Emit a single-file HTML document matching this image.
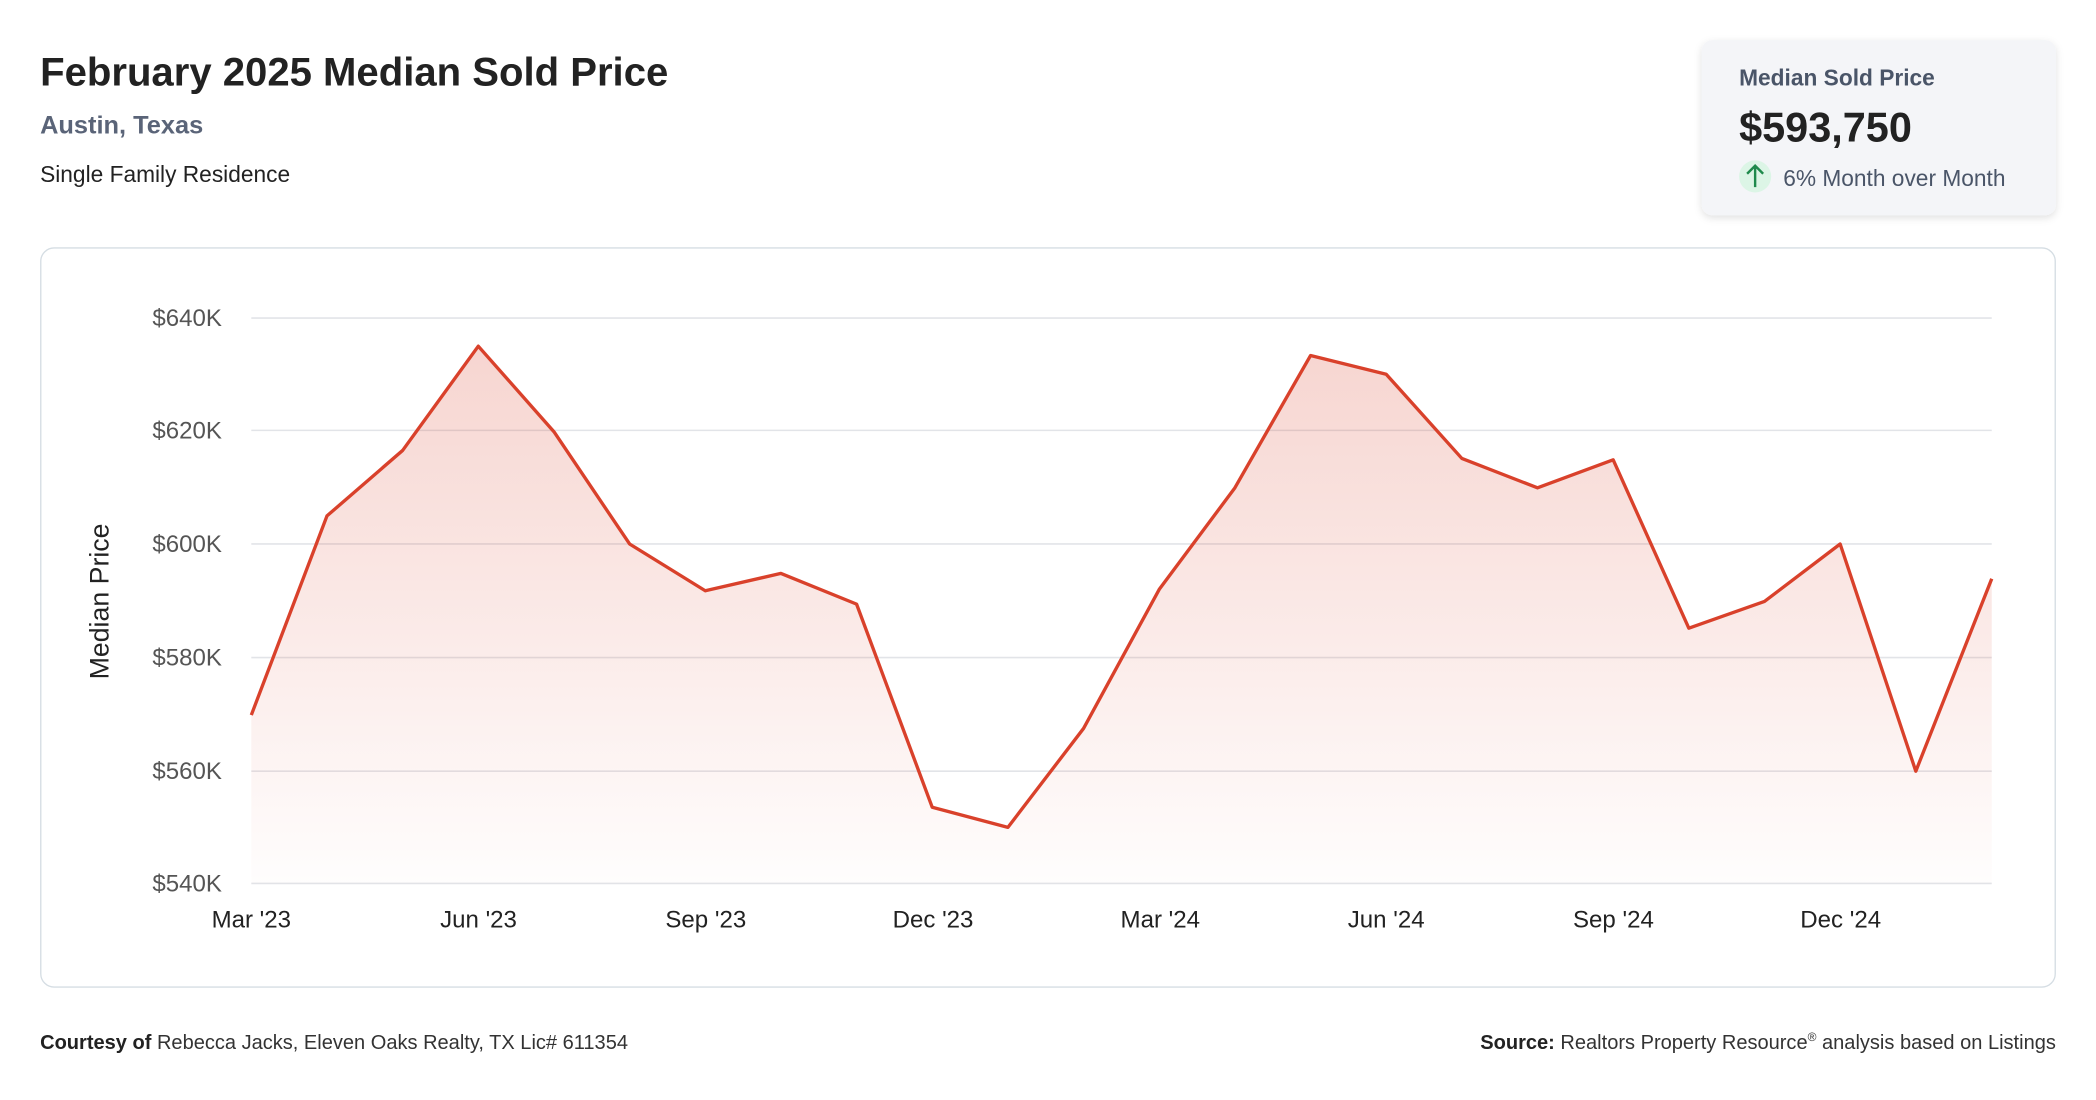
<!DOCTYPE html>
<html><head><meta charset="utf-8"><style>
html,body{margin:0;padding:0;background:#fff;width:2096px;height:1100px;overflow:hidden}
svg{display:block}
text{font-family:"Liberation Sans",Arial,sans-serif}
</style></head><body>
<svg width="2096" height="1100" viewBox="0 0 1568 823" preserveAspectRatio="none" xmlns="http://www.w3.org/2000/svg">
<defs>
<linearGradient id="g" x1="0" y1="0" x2="0" y2="1">
<stop offset="0" stop-color="#d9412b" stop-opacity="0.22"/>
<stop offset="1" stop-color="#d9412b" stop-opacity="0.01"/>
</linearGradient>
<filter id="sh" x="-10%" y="-10%" width="120%" height="130%"><feDropShadow dx="0" dy="2" stdDeviation="3" flood-color="#000" flood-opacity="0.12"/></filter>
</defs>
<text x="30" y="64" font-size="30" font-weight="bold" fill="#222">February 2025 Median Sold Price</text>
<text x="30" y="100" font-size="19" font-weight="bold" fill="#5a6478">Austin, Texas</text>
<text x="30" y="136" font-size="17" fill="#222">Single Family Residence</text>

<rect x="1273" y="30" width="265" height="131" rx="8" fill="#f4f5f8" filter="url(#sh)"/>
<text x="1301" y="64" font-size="17" font-weight="bold" fill="#4a5568">Median Sold Price</text>
<text x="1301" y="106" font-size="31" font-weight="bold" fill="#222">$593,750</text>
<circle cx="1313" cy="132" r="12" fill="#dcf5e6"/>
<path d="M1313 140 V124 M1307 130 L1313 124 L1319 130" stroke="#1f8a4c" stroke-width="1.8" fill="none"/>
<text x="1334" y="139" font-size="17" fill="#4a5568">6% Month over Month</text>

<rect x="30.5" y="185.5" width="1507" height="553" rx="10" fill="#fff" stroke="#d5dde3"/>
<g stroke="#e2e4e8" stroke-width="1.2">
<line x1="188" x2="1490" y1="238" y2="238"/><line x1="188" x2="1490" y1="322" y2="322"/>
<line x1="188" x2="1490" y1="407" y2="407"/><line x1="188" x2="1490" y1="492" y2="492"/>
<line x1="188" x2="1490" y1="577" y2="577"/><line x1="188" x2="1490" y1="661" y2="661"/>
</g>
<g font-size="18" fill="#555" text-anchor="end">
<text x="166" y="244">$640K</text><text x="166" y="328">$620K</text><text x="166" y="413">$600K</text>
<text x="166" y="498">$580K</text><text x="166" y="583">$560K</text><text x="166" y="667">$540K</text>
</g>
<text transform="translate(81,450) rotate(-90)" font-size="20" fill="#222" text-anchor="middle">Median Price</text>
<g font-size="18" fill="#222" text-anchor="middle">
<text x="188" y="694">Mar '23</text><text x="358" y="694">Jun '23</text><text x="528" y="694">Sep '23</text>
<text x="698" y="694">Dec '23</text><text x="868" y="694">Mar '24</text><text x="1037" y="694">Jun '24</text>
<text x="1207" y="694">Sep '24</text><text x="1377" y="694">Dec '24</text>
</g>
<path d="M188 535 L244.6 386 L301.2 337 L357.8 259 L414.4 323 L471 407 L527.6 442 L584.2 429 L640.8 452 L697.4 604 L754 619 L810.6 545 L867.2 441 L923.8 365 L980.4 266 L1037 280 L1093.6 343 L1150.2 365 L1206.8 344 L1263.4 470 L1320 450 L1376.6 407 L1433.2 577 L1490 433 L1490 661 L188 661 Z" fill="url(#g)"/>
<path d="M188 535 L244.6 386 L301.2 337 L357.8 259 L414.4 323 L471 407 L527.6 442 L584.2 429 L640.8 452 L697.4 604 L754 619 L810.6 545 L867.2 441 L923.8 365 L980.4 266 L1037 280 L1093.6 343 L1150.2 365 L1206.8 344 L1263.4 470 L1320 450 L1376.6 407 L1433.2 577 L1490 433" fill="none" stroke="#d9412b" stroke-width="2.5" stroke-linejoin="round"/>

<text x="30" y="785" font-size="15" fill="#333"><tspan font-weight="bold" fill="#222">Courtesy of</tspan> Rebecca Jacks, Eleven Oaks Realty, TX Lic# 611354</text>
<text x="1538" y="785" font-size="15" fill="#333" text-anchor="end"><tspan font-weight="bold" fill="#222">Source:</tspan> Realtors Property Resource<tspan font-size="9" dy="-6">®</tspan><tspan dy="6"> analysis based on Listings</tspan></text>
</svg>
</body></html>
